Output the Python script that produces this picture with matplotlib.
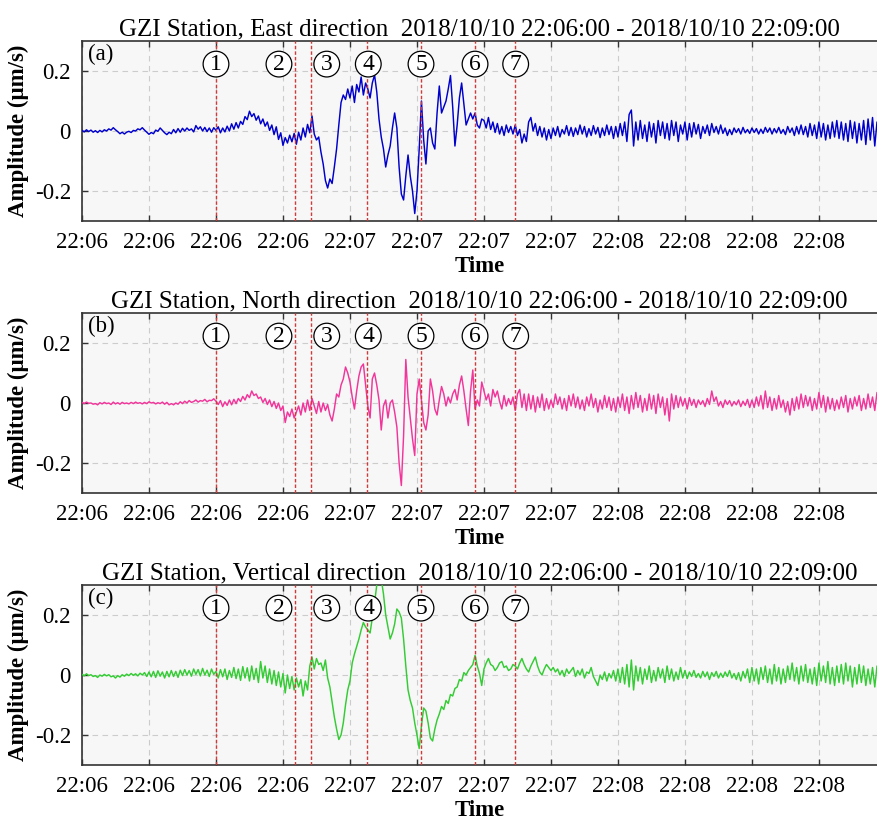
import numpy as np
import matplotlib
matplotlib.use("Agg")
import matplotlib.pyplot as plt

plt.rcParams['font.family'] = ['Liberation Serif', 'DejaVu Serif']
plt.rcParams['mathtext.fontset'] = 'stix'

# ---------------- data (amplitudes in 0.001 um/s, sampled every 0.5 s from 22:06:00) ----------------
SAMPLE_DT = 0.5
EAST = [
    2, -3, 4, -2, 3, -4, 1, -5, 2, -3, 4, 0, 7, 3, 11, 4, -2, -9, -4, -10,
    -4, -1, -5, 2, 0, 7, 4, 11, 3, -4, -11, -5, -9, 3, -1, 10, 2, -6, -12, -4,
    -9, 5, -6, 8, -4, 9, 0, 10, 2, 7, -3, 18, 6, 14, 0, 12, -2, 10, -4, 11,
    2, 14, -6, 10, -3, 16, 0, 24, 6, 28, 10, 32, 22, 48, 38, 66, 48, 58, 36, 50,
    24, 40, 16, 30, 2, 20, -12, 14, -28, -6, -48, -22, -40, -14, -36, -8, -44, -4, -30, 10,
    -20, 22, -6, 50, -10, -30, -20, -70, -110, -165, -190, -160, -175, -120, -60, 20, 95, 120, 105, 140,
    110, 150, 95, 155, 130, 180, 120, 160, 140, 110, 160, 187, 130, 40, -20, -60, -120, -80, -50, 10,
    60, 10, -120, -210, -230, -150, -80, -150, -200, -275, -200, -60, 100, -30, -110, 0, 10, -40, -60, 60,
    150, 60, 80, 100, 140, 185, 80, -50, 20, 110, 160, 90, 20, 40, 60, 40, 60, 20, 10, 40,
    35, 10, 45, 5, 30, -5, 25, -10, 15, -15, 20, -5, 15, -10, 20, -15, 5, -40, -10, -35,
    30, 45, 0, 25, -15, 15, -20, 10, -30, 5, -25, 10, -15, 15, -20, 5, -10, 18, -15, 12,
    -18, 10, -12, 20, -10, 15, -20, 8, -15, 18, -10, 12, -22, 10, -15, 20, -12, 15, -25, 15,
    -20, 25, -15, 30, -35, 55, 70, -50, 30, -30, 35, -25, 20, -35, 30, -20, 25, -40, 35, -15,
    30, -25, 25, -30, 35, -15, 30, -35, 20, -10, 30, -30, 25, -20, 28, -10, 22, -25, 15, -8,
    20, -15, 25, -5, 15, -10, 20, -8, 10, -15, 5, -12, 10, -5, 8, -10, 12, -6, 5, -8,
    10, -5, 8, -10, 6, -8, 12, -4, 10, -10, 8, -6, 12, -8, 5, -12, 15, -5, 10, -15,
    15, -10, 20, -12, 15, -20, 25, -15, 20, -25, 30, -20, 25, -30, 20, -25, 30, -20, 35, -25,
    30, -30, 25, -35, 35, -25, 30, -40, 25, -30, 35, -45, 40, -30, 45, -50, 30, -40, 25, -35,
    20,
]
NORTH = [
    2, -2, 3, -1, 0, -4, -2, -6, 1, -3, 2, -2, 0, -5, 3, -3, 1, -4, 2, -2,
    0, -3, 2, -2, 3, -1, 1, -3, 2, -2, 4, 0, 2, -3, 1, -2, 3, -4, 2, -6,
    -2, -6, 0, -4, 4, -2, 6, 0, 8, 2, 5, 10, 3, 8, 6, 12, 4, 9, 8, 14,
    6, -5, 8, -12, 4, -8, 10, -6, 12, -2, 15, 5, 22, 10, 28, 18, 40, 25, 30, 15,
    20, 2, 15, -5, 10, -12, 5, -18, 0, -25, -10, -65, -30, -45, -20, -50, -30, -10, -40, 0,
    -30, 10, -25, 15, -10, -35, 5, -30, 0, -25, -5, -40, -60, -20, 30, 20, 60, 80, 120, 100,
    70, 20, -20, 40, 90, 120, 130, 60, -10, -50, 80, 100, 60, 10, -90, -10, 10, -50, 0, 10,
    -30, -80, -200, -275, -110, 145, 20, -50, -120, -175, 30, 80, 10, -65, -90, -40, 80, 40, -20, -40,
    10, 55, 30, -10, 20, 0, 30, 45, 10, 60, 90, 40, -20, -75, 40, 110, -20, 10, -10, 70,
    40, 10, 30, -10, 45, 20, 40, 5, -20, 25, -10, 15, -5, 20, -25, 30, 45, -15, 30, -25,
    30, -20, 25, -30, 20, -15, 30, -25, 15, -20, 10, -15, 30, -5, 20, -20, 15, -25, 25, -10,
    30, -15, 20, -20, 10, -25, 20, -10, 30, -15, 15, -30, 10, -20, 25, -15, 20, -25, 15, -30,
    20, -15, 30, -25, 20, -35, 25, -20, 35, -15, 25, -30, 15, -25, 30, -20, 25, -35, 30, -15,
    20, -40, 15, -60, 30, -20, 25, -15, 20, -10, 15, -20, 18, -8, 12, -15, 10, -5, 8, -12,
    15, -5, 40, 5, 20, -10, 5, -15, 10, -5, 8, -10, 5, -6, 10, -12, 6, -8, 12, -15,
    10, -15, 20, -10, 25, -20, 40, -15, 20, -25, 15, -20, 25, -15, 10, -30, 5, -40, 15, -25,
    20, -20, 30, -15, 25, -10, 20, -25, 15, -20, 35, -15, 25, -30, 20, -20, 15, -25, 10, -20,
    20, -15, 25, -30, 15, -20, 20, -10, 25, -25, 15, -20, 30, -15, 20, -25, 35, -10, 25, -15,
    10,
]
VERTICAL = [
    2, -3, 4, -2, 1, -5, -2, -8, 0, -4, 2, -3, 1, -6, -3, -10, -2, -7, 1, -4,
    3, -2, 5, -1, 4, -3, 6, 0, 8, -5, 10, -6, 12, -8, 14, -4, 10, -10, 12, -6,
    15, -5, 12, -8, 16, -2, 18, 0, 15, -4, 20, 2, 18, -3, 22, 0, 16, -5, 20, 2,
    12, -10, 18, -6, 20, -15, 15, -8, 25, -12, 20, -18, 28, -10, 24, -20, 30, -15, 22, -25,
    45, -10, 30, -25, 20, -30, 15, -35, 10, -40, 5, -60, 0, -45, -5, -50, -10, -40, -15, -70,
    -20, -50, 30, 60, 20, 55, 35, 40, 15, 50, -10, -40, -90, -140, -180, -215, -200, -160, -100, -50,
    -20, 40, 70, 95, 120, 150, 175, 160, 150, 140, 190, 240, 300, 340, 320, 270, 200, 160, 120, 140,
    170, 220, 210, 190, 120, 30, -50, -85, -110, -160, -200, -245, -170, -110, -120, -160, -210, -220, -180, -150,
    -130, -105, -115, -85, -95, -65, -70, -45, -40, -15, -20, 8, 0, 15, 25, 35, 65, 30, 5, -35,
    20, 40, 55, 35, 30, 15, 25, 40, 45, 25, 30, 15, 20, 35, 30, 20, 40, 55, 35, 20,
    10, 30, 45, 60, 30, 10, 0, 20, 35, 25, 15, 25, 10, 20, 0, 15, -5, 20, 5, 15,
    25, -5, 15, 0, 20, -10, 10, 5, 25, -5, -20, -35, 0, -15, 10, -20, 5, -10, 15, -20,
    20, -25, 25, -30, 35, -40, 50, -50, 30, -20, 25, -30, 20, -15, 30, -25, 15, -20, 25, -10,
    20, -25, 30, -15, 20, -20, 10, -15, 25, -10, 15, -12, 10, -5, 15, -8, 5, -10, 12, -6,
    10, -15, 8, -5, 12, -10, 6, -8, 10, -5, 15, -10, 5, -15, 8, -20, 12, -10, 20, -25,
    25, -20, 20, -30, 25, -15, 30, -25, 20, -30, 35, -20, 25, -30, 20, -25, 30, -15, 40, -20,
    25, -30, 30, -20, 35, -25, 20, -30, 25, -35, 40, -20, 30, -25, 45, -30, 25, -35, 30, -25,
    35, -30, 40, -20, 30, -40, 25, -30, 35, -25, 30, -35, 20, -30, 25, -40, 30, -25, 20, -30,
    15,
]
DIRECTIONS = ['East', 'North', 'Vertical']
PANEL_TAGS = ['(a)', '(b)', '(c)']
EVENT_TIMES = [30.0, 47.7, 51.2, 63.9, 75.8, 87.9, 97.0]   # seconds after 22:06:00
EVENT_NAMES = ['1', '2', '3', '4', '5', '6', '7']
TICK_SECONDS = [0, 15, 30, 45, 60, 75, 90, 105, 120, 135, 150, 165]
TICK_LABELS = ['22:06'] * 4 + ['22:07'] * 4 + ['22:08'] * 4
Y_TICKS = [-0.2, 0, 0.2]
Y_TICK_LABELS = ['-0.2', '0', '0.2']
TIME_RANGE = '2018/10/10 22:06:00 - 2018/10/10 22:09:00'

# ---------------- styling ----------------
COLORS = ['#0000CD', '#F2359B', '#33CC33']
LABEL_X = [30.0, 44.1, 54.8, 64.1, 75.9, 88.0, 97.1]
LABEL_Y = 0.223
FIG_W, FIG_H = 877, 822
AX_LEFT, AX_RIGHT = 82, 877
AX_TOPS = [41, 313, 585]
AX_H = 180

fig = plt.figure(figsize=(FIG_W / 100, FIG_H / 100), dpi=100)

series = [EAST, NORTH, VERTICAL]
for i, (data, color) in enumerate(zip(series, COLORS)):
    top = AX_TOPS[i]
    ax = fig.add_axes([AX_LEFT / FIG_W, (FIG_H - top - AX_H) / FIG_H,
                       (AX_RIGHT - AX_LEFT) / FIG_W, AX_H / FIG_H])
    vals = np.array(data, dtype=float) / 1000.0
    t = np.arange(len(vals)) * SAMPLE_DT
    ax.set_facecolor('#F7F7F7')
    ax.plot(t, vals, color=color, lw=1.05, zorder=3)

    for ev in EVENT_TIMES:
        ax.axvline(ev, color='#D03A3A', lw=1.0, ls=(0, (2.5, 1.5)), zorder=4)
    for lx, name in zip(LABEL_X, EVENT_NAMES):
        ax.text(lx, LABEL_Y, name, ha='center', va='center', fontsize=17, zorder=6,
                bbox=dict(boxstyle='circle,pad=0.1', fc='white', ec='black', lw=0.9))

    ax.text(0.008, 0.985, PANEL_TAGS[i], transform=ax.transAxes, ha='left', va='top',
            fontsize=16.5, zorder=7)

    ax.set_xlim(0, 178)
    ax.set_ylim(-0.3, 0.3)
    ax.set_xticks(TICK_SECONDS)
    ax.set_xticklabels(TICK_LABELS, fontsize=16.5)
    ax.set_yticks(Y_TICKS)
    ax.set_yticklabels(Y_TICK_LABELS, fontsize=16.5)
    ax.tick_params(direction='in', length=4, width=1.0, color='#333333',
                   top=True, right=False, pad=8)
    ax.grid(True, ls=(0, (5, 4)), color='#CCCCCC', lw=0.8, zorder=0)
    for s in ['left', 'bottom', 'top']:
        ax.spines[s].set_color('#333333')
        ax.spines[s].set_linewidth(1.2)
    ax.spines['right'].set_visible(False)

    ax.set_title(f'GZI Station, {DIRECTIONS[i]} direction  {TIME_RANGE}',
                 fontsize=18, pad=4)
    ax.set_ylabel('Amplitude (μm/s)', fontsize=16.5, fontweight='bold', labelpad=4)
    ax.set_xlabel('Time', fontsize=16.5, fontweight='bold', labelpad=2)

fig.savefig('out.png', dpi=100)
